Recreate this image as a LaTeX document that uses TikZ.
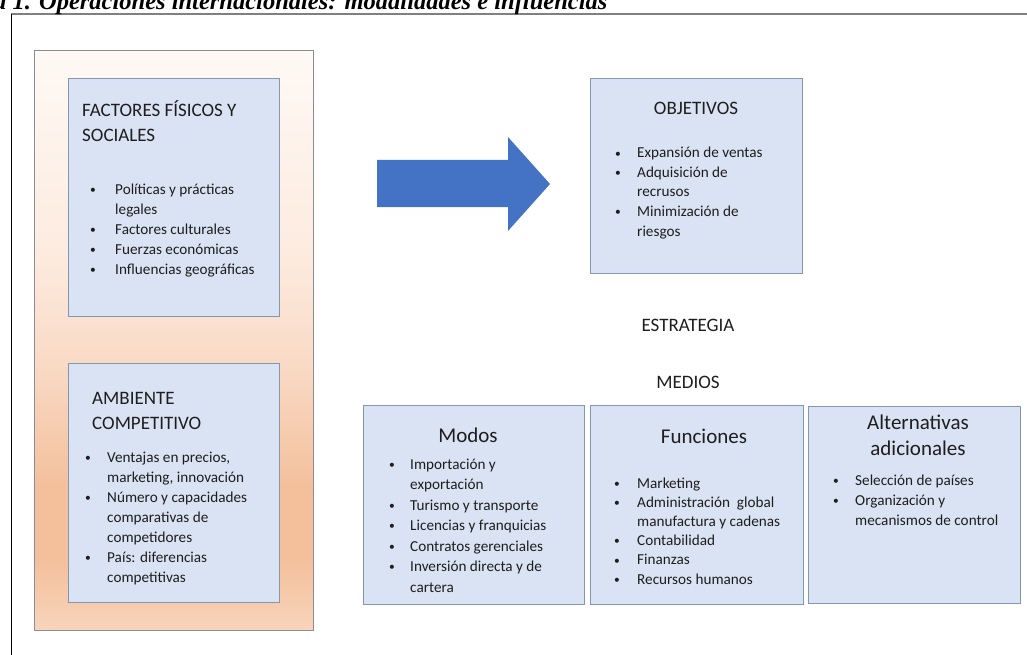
\documentclass[tikz,border=0pt]{standalone}
\usepackage{fontspec}
\setmainfont{Carlito}
\newfontfamily\capfont{Liberation Serif}
\usetikzlibrary{positioning}
\definecolor{boxblue}{HTML}{DAE3F3}
\definecolor{boxline}{HTML}{8497B0}
\definecolor{panelline}{HTML}{8C8C96}
\definecolor{arrowblue}{HTML}{4472C4}
\definecolor{inktext}{HTML}{1E1E1E}
\definecolor{peachA}{HTML}{FEF9F5}
\definecolor{peachB}{HTML}{FDEBDF}
\definecolor{peachC}{HTML}{F9D9C4}
\definecolor{peachD}{HTML}{F4C09C}
\definecolor{peachE}{HTML}{F4C09C}
\definecolor{peachF}{HTML}{F8D4BB}
\pgfdeclareverticalshading{panelshade}{100bp}{color(0bp)=(peachF); color(25bp)=(peachF); color(31bp)=(peachE); color(37.5bp)=(peachD); color(47.5bp)=(peachC); color(57.5bp)=(peachB); color(75bp)=(peachA); color(100bp)=(peachA)}
\newcommand{\bul}{\raisebox{0.8pt}{\fontsize{11.5}{11.5}\selectfont•}}
\newcommand{\bullets}[2]{\begin{tabular}[t]{@{}p{#1}@{}l@{}}#2\end{tabular}}

\begin{document}
\begin{tikzpicture}[x=1pt, y=-1pt, every node/.style={text=inktext},
    bluebox/.style={draw=boxline, fill=boxblue, line width=0.8pt, anchor=north west, inner sep=0pt},
    head/.style={inner sep=0pt, font=\fontsize{19}{25}\selectfont},
    bighead/.style={inner sep=0pt, font=\fontsize{21}{26}\selectfont},
    lst/.style={inner sep=0pt, anchor=base west, font=\fontsize{15.2}{#1}\selectfont},
    lst/.default=20]
    \useasboundingbox (0,0) rectangle (1027,655);
    % frame and caption
    \draw[gray, line width=2pt] (11,14.5) -- (1030,14.5);
    \draw[black, line width=1pt] (11,14) -- (11,660);
    \node[anchor=base west, inner sep=0pt, text=black, font=\capfont\bfseries\itshape\fontsize{24.5}{28}\selectfont] (cap) at (-6,9.5) {a 1. Operaciones internacionales: modalidades e influencias};

    % left panel
    \node[draw=panelline, line width=0.8pt, shade, shading=panelshade, anchor=north west, minimum width=279pt, minimum height=580pt, inner sep=0pt] (panel) at (34,50) {};
    \node[bluebox, minimum width=211pt, minimum height=238pt] (fis) at (68,78) {};
    \node[head, anchor=base west] (fistit) at (82,117) {\begin{tabular}[t]{@{}l@{}}FACTORES FÍSICOS Y\\SOCIALES\end{tabular}};
    \node[lst] (fislst) at (90,194) {\bullets{25pt}{\bul&Políticas y prácticas\\&legales\\\bul&Factores culturales\\\bul&Fuerzas económicas\\\bul&Influencias geográficas}};
    \node[bluebox, minimum width=211pt, minimum height=239pt] (amb) at (68,363) {};
    \node[head, anchor=base west] (ambtit) at (92,404) {\begin{tabular}[t]{@{}l@{}}AMBIENTE\\COMPETITIVO\end{tabular}};
    \node[lst] (amblst) at (85,462) {\bullets{22pt}{\bul&Ventajas en precios,\\&marketing, innovación\\\bul&Número y capacidades\\&comparativas de\\&competidores\\\bul&País: diferencias\\&competitivas}};

    % arrow
    \fill[arrowblue] (377,160) -- (508,160) -- (508,137) -- (550,184) -- (508,231) -- (508,207) -- (377,207) -- cycle;

    % objetivos
    \node[bluebox, minimum width=212pt, minimum height=195pt] (obj) at (590,78) {};
    \node[head, anchor=base] (objtit) at (696,115) {OBJETIVOS};
    \node[lst=19.5] (objlst) at (615,158) {\bullets{22pt}{\bul&Expansión de ventas\\\bul&Adquisición de\\&recrusos\\\bul&Minimización de\\&riesgos}};

    \node[head, anchor=base] (estr) at (688,331) {ESTRATEGIA};
    \node[head, anchor=base] (med) at (688,388) {MEDIOS};

    % medios
    \node[bluebox, minimum width=221pt, minimum height=199pt] (modos) at (363,405) {};
    \node[bighead, anchor=base] (modtit) at (468,442) {Modos};
    \node[lst=20.5] (modlst) at (389,469) {\bullets{21pt}{\bul&Importación y\\&exportación\\\bul&Turismo y transporte\\\bul&Licencias y franquicias\\\bul&Contratos gerenciales\\\bul&Inversión directa y de\\&cartera}};
    \node[bluebox, minimum width=213pt, minimum height=199pt] (func) at (590,405) {};
    \node[bighead, anchor=base] (functit) at (704,443) {Funciones};
    \node[lst=19.2] (funclst) at (614,488) {\bullets{23pt}{\bul&Marketing\\\bul&Administración\ \ global\\&manufactura y cadenas\\\bul&Contabilidad\\\bul&Finanzas\\\bul&Recursos humanos}};
    \node[bluebox, minimum width=212pt, minimum height=197pt] (alt) at (808,406) {};
    \node[bighead, anchor=base] (alttit) at (918,429) {\begin{tabular}[t]{@{}c@{}}Alternativas\\adicionales\end{tabular}};
    \node[lst] (altlst) at (833,485) {\bullets{22pt}{\bul&Selección de países\\\bul&Organización y\\&mecanismos de control}};
\end{tikzpicture}
\end{document}
